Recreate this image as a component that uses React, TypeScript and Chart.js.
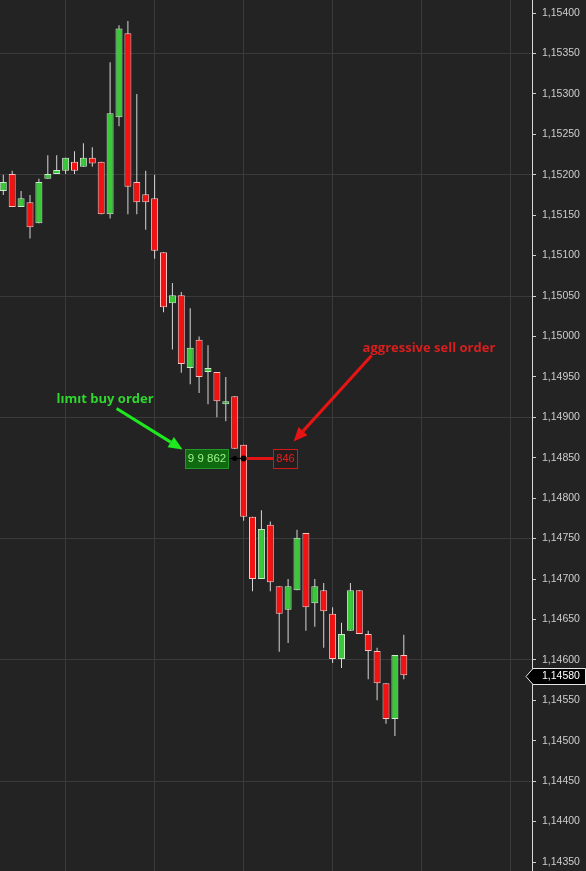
import React, { useEffect, useRef } from 'react';
import { Chart, registerables } from 'chart.js';

Chart.register(...registerables);

// ---- data ----
const opens = [
  1.15180, 1.15201, 1.15160, 1.15166, 1.15140, 1.15195, 1.15201, 1.15205, 1.15216, 1.15210,
  1.15221, 1.15216, 1.15151, 1.15271, 1.15375, 1.15191, 1.15176, 1.15171, 1.15104, 1.15041,
  1.15051, 1.14961, 1.14996, 1.14956, 1.14956, 1.14916, 1.14926, 1.14866, 1.14777, 1.14700,
  1.14767, 1.14691, 1.14662, 1.14686, 1.14757, 1.14670, 1.14686, 1.14657, 1.14601, 1.14636,
  1.14686, 1.14632, 1.14611, 1.14571, 1.14527, 1.14606,
];
const highs = [
  1.15200, 1.15205, 1.15180, 1.15175, 1.15195, 1.15224, 1.15224, 1.15221, 1.15229, 1.15239,
  1.15234, 1.15216, 1.15339, 1.15385, 1.15390, 1.15300, 1.15205, 1.15200, 1.15104, 1.15066,
  1.15055, 1.15035, 1.15000, 1.14989, 1.14956, 1.14950, 1.14926, 1.14866, 1.14777, 1.14785,
  1.14771, 1.14691, 1.14700, 1.14761, 1.14757, 1.14700, 1.14695, 1.14665, 1.14646, 1.14695,
  1.14686, 1.14636, 1.14615, 1.14571, 1.14606, 1.14631,
];
const lows = [
  1.15175, 1.15160, 1.15160, 1.15121, 1.15140, 1.15195, 1.15201, 1.15201, 1.15201, 1.15210,
  1.15210, 1.15151, 1.15146, 1.15260, 1.15151, 1.15151, 1.15132, 1.15096, 1.15030, 1.14984,
  1.14955, 1.14941, 1.14930, 1.14916, 1.14900, 1.14895, 1.14861, 1.14772, 1.14685, 1.14700,
  1.14685, 1.14610, 1.14621, 1.14686, 1.14636, 1.14641, 1.14615, 1.14596, 1.14590, 1.14636,
  1.14632, 1.14576, 1.14550, 1.14521, 1.14506, 1.14576,
];
const closes = [
  1.15191, 1.15160, 1.15171, 1.15135, 1.15191, 1.15201, 1.15206, 1.15221, 1.15205, 1.15221,
  1.15214, 1.15151, 1.15276, 1.15381, 1.15185, 1.15166, 1.15166, 1.15106, 1.15036, 1.15051,
  1.14966, 1.14986, 1.14950, 1.14961, 1.14920, 1.14920, 1.14861, 1.14777, 1.14700, 1.14762,
  1.14696, 1.14657, 1.14691, 1.14751, 1.14665, 1.14691, 1.14660, 1.14601, 1.14632, 1.14686,
  1.14632, 1.14611, 1.14571, 1.14527, 1.14606, 1.14581,
];
const candleIndex = opens.map((_, i) => i);

const yTicks = [
  1.15400, 1.15350, 1.15300, 1.15250, 1.15200, 1.15150, 1.15100, 1.15050, 1.15000, 1.14950,
  1.14900, 1.14850, 1.14800, 1.14750, 1.14700, 1.14650, 1.14600, 1.14550, 1.14500, 1.14450,
  1.14400, 1.14350,
];
const gridPrices = [1.15350, 1.15200, 1.15050, 1.14900, 1.14750, 1.14600, 1.14450];
const gridCandles = [7, 17, 27, 37, 47, 57];

const orderIndex = 27;
const orderPrice = 1.14850;
const buyVolumeLabel = '9 9 862';
const sellVolumeLabel = '846';
const buyText = 'lımıt buy order';
const sellText = 'aggressive sell order';
const currentPrice = 1.14580;

const fmt = (v: number) => v.toFixed(5).replace('.', ',');

function drawArrow(ctx: CanvasRenderingContext2D, x1: number, y1: number, x2: number, y2: number, color: string) {
  const a = Math.atan2(y2 - y1, x2 - x1);
  const hl = 14, hw = 6;
  const bx = x2 - hl * Math.cos(a), by = y2 - hl * Math.sin(a);
  ctx.strokeStyle = color;
  ctx.lineWidth = 3;
  ctx.lineCap = 'butt';
  ctx.beginPath();
  ctx.moveTo(x1, y1);
  ctx.lineTo(bx, by);
  ctx.stroke();
  ctx.fillStyle = color;
  ctx.beginPath();
  ctx.moveTo(x2, y2);
  ctx.lineTo(bx + hw * Math.sin(a), by - hw * Math.cos(a));
  ctx.lineTo(bx - hw * Math.sin(a), by + hw * Math.cos(a));
  ctx.closePath();
  ctx.fill();
}

const bgPlugin = {
  id: 'bg',
  beforeDraw(chart: any) {
    const { ctx, width, height } = chart;
    ctx.save();
    ctx.fillStyle = '#232323';
    ctx.fillRect(0, 0, width, height);
    ctx.restore();
  },
};

const annotationPlugin = {
  id: 'annot',
  afterDraw(chart: any) {
    const { ctx } = chart;
    const xs = chart.scales.x;
    const ys = chart.scales.y;
    const ox = xs.getPixelForValue(orderIndex);
    const oy = Math.round(ys.getPixelForValue(orderPrice)) + 0.5;
    ctx.save();

    // connector lines
    ctx.strokeStyle = '#000000';
    ctx.lineWidth = 1;
    ctx.beginPath();
    ctx.moveTo(ox - 16, oy);
    ctx.lineTo(ox, oy);
    ctx.stroke();
    ctx.strokeStyle = '#e01414';
    ctx.lineWidth = 3;
    ctx.beginPath();
    ctx.moveTo(ox + 3, oy);
    ctx.lineTo(ox + 30, oy);
    ctx.stroke();
    ctx.fillStyle = '#000000';
    ctx.beginPath();
    ctx.arc(xs.getPixelForValue(orderIndex - 1), oy, 2.5, 0, Math.PI * 2);
    ctx.fill();
    ctx.beginPath();
    ctx.arc(ox, oy, 3, 0, Math.PI * 2);
    ctx.fill();

    // green (buy) box
    const gx1 = Math.round(ox - 59) + 0.5, gx2 = Math.round(ox - 16) + 0.5;
    const by1 = Math.round(oy - 10) + 0.5, by2 = Math.round(oy + 9) + 0.5;
    ctx.fillStyle = '#0f6a10';
    ctx.fillRect(gx1, by1, gx2 - gx1, by2 - by1);
    ctx.strokeStyle = '#22972a';
    ctx.lineWidth = 1;
    ctx.strokeRect(gx1, by1, gx2 - gx1, by2 - by1);
    ctx.font = '11.5px "Liberation Sans", Arial, sans-serif';
    ctx.textBaseline = 'middle';
    ctx.textAlign = 'center';
    ctx.fillStyle = '#9cf58c';
    ctx.fillText(buyVolumeLabel, (gx1 + gx2) / 2, oy);

    // red (sell) box
    const rx1 = Math.round(ox + 29) + 0.5, rx2 = Math.round(ox + 53) + 0.5;
    ctx.fillStyle = '#241d1d';
    ctx.fillRect(rx1, by1, rx2 - rx1, by2 - by1);
    ctx.strokeStyle = '#d41818';
    ctx.strokeRect(rx1, by1, rx2 - rx1, by2 - by1);
    ctx.fillStyle = '#e42020';
    ctx.font = '11px "Liberation Sans", Arial, sans-serif';
    ctx.fillText(sellVolumeLabel, (rx1 + rx2) / 2, oy);

    // arrows
    drawArrow(ctx, ox - 127, oy - 50, ox - 61, oy - 9, '#1ee81e');
    drawArrow(ctx, ox + 128, oy - 103, ox + 50, oy - 17, '#e81414');

    // annotation texts
    ctx.textAlign = 'left';
    ctx.textBaseline = 'alphabetic';
    ctx.font = 'bold 13px "Open Sans", sans-serif';
    ctx.fillStyle = '#2fd62f';
    ctx.fillText(buyText, ox - 187, oy - 56);
    ctx.fillStyle = '#d81e1e';
    ctx.fillText(sellText, ox + 119, oy - 107);

    // current price label
    const py = Math.round(ys.getPixelForValue(currentPrice)) + 0.5;
    const ax = ys.left;
    ctx.beginPath();
    ctx.moveTo(ax - 6, py);
    ctx.lineTo(ax + 1, py - 8);
    ctx.lineTo(chart.width - 0.5, py - 8);
    ctx.lineTo(chart.width - 0.5, py + 8);
    ctx.lineTo(ax + 1, py + 8);
    ctx.closePath();
    ctx.fillStyle = '#000000';
    ctx.fill();
    ctx.strokeStyle = '#e6e6e6';
    ctx.lineWidth = 1;
    ctx.stroke();
    ctx.fillStyle = '#ffffff';
    ctx.font = '10.5px "Liberation Sans", Arial, sans-serif';
    ctx.textBaseline = 'middle';
    ctx.fillText(fmt(currentPrice), ax + 10, py);
    ctx.restore();
  },
};

export default function App() {
  const canvasRef = useRef<HTMLCanvasElement | null>(null);

  useEffect(() => {
    document.body.style.margin = '0';
    document.body.style.background = '#232323';
    const canvas = canvasRef.current;
    if (!canvas) return;

    const upColor = '#3ac83a';
    const downColor = '#f21212';
    const isUp = candleIndex.map((i) => closes[i] >= opens[i]);

    const chart = new Chart(canvas, {
      type: 'bar',
      data: {
        datasets: [
          {
            label: 'wicks',
            data: candleIndex.map((i) => ({ x: i, y: [lows[i], highs[i]] })) as any,
            backgroundColor: '#d6d6d6',
            borderWidth: 0,
            barThickness: 1,
            grouped: false,
            order: 2,
            inflateAmount: 0,
          } as any,
          {
            label: 'bodies',
            data: candleIndex.map((i) => ({ x: i, y: [opens[i], closes[i]] })) as any,
            backgroundColor: isUp.map((u) => (u ? upColor : downColor)),
            borderColor: isUp.map((u) => (u ? '#cdeccd' : '#ffc2c2')),
            borderWidth: 1,
            borderSkipped: false,
            barThickness: 7,
            grouped: false,
            order: 1,
            inflateAmount: 0,
          } as any,
        ],
      },
      options: {
        responsive: false,
        maintainAspectRatio: false,
        animation: false,
        devicePixelRatio: 1,
        events: [],
        layout: { padding: 0 },
        plugins: { legend: { display: false }, tooltip: { enabled: false } },
        scales: {
          x: {
            type: 'linear',
            min: -0.371,
            max: 59.404,
            offset: false,
            position: 'bottom',
            ticks: { display: false },
            border: { display: false },
            grid: { color: '#3a3a3a', drawTicks: false, lineWidth: 1, offset: false },
            afterBuildTicks: (s: any) => {
              s.ticks = gridCandles.map((v) => ({ value: v }));
            },
            afterFit: (s: any) => {
              s.height = 0;
              s.paddingLeft = 0;
              s.paddingRight = 0;
            },
          },
          y: {
            type: 'linear',
            position: 'right',
            min: 1.143389,
            max: 1.154161,
            border: { display: true, color: '#d8d8d8', width: 1 },
            grid: {
              color: (c: any) =>
                c.tick && gridPrices.some((g) => Math.abs(g - c.tick.value) < 1e-7) ? '#3a3a3a' : 'rgba(0,0,0,0)',
              tickColor: '#cfcfcf',
              tickLength: 4,
              drawTicks: true,
              offset: false,
            },
            ticks: {
              color: '#cdcdcd',
              padding: 6,
              font: { family: '"Liberation Sans", Arial, sans-serif', size: 10.5 },
              callback: (v: any) => fmt(Number(v)),
            },
            afterBuildTicks: (s: any) => {
              s.ticks = yTicks.map((v) => ({ value: v }));
            },
            afterFit: (s: any) => {
              s.width = 54;
              s.paddingTop = 0;
              s.paddingBottom = 0;
            },
          },
        },
      } as any,
      plugins: [bgPlugin, annotationPlugin],
    });

    return () => chart.destroy();
  }, []);

  return (
    <div style={{ position: 'fixed', left: 0, top: 0, width: 586, height: 871, background: '#232323' }}>
      <canvas ref={canvasRef} width={586} height={871} style={{ display: 'block', width: 586, height: 871 }} />
    </div>
  );
}
